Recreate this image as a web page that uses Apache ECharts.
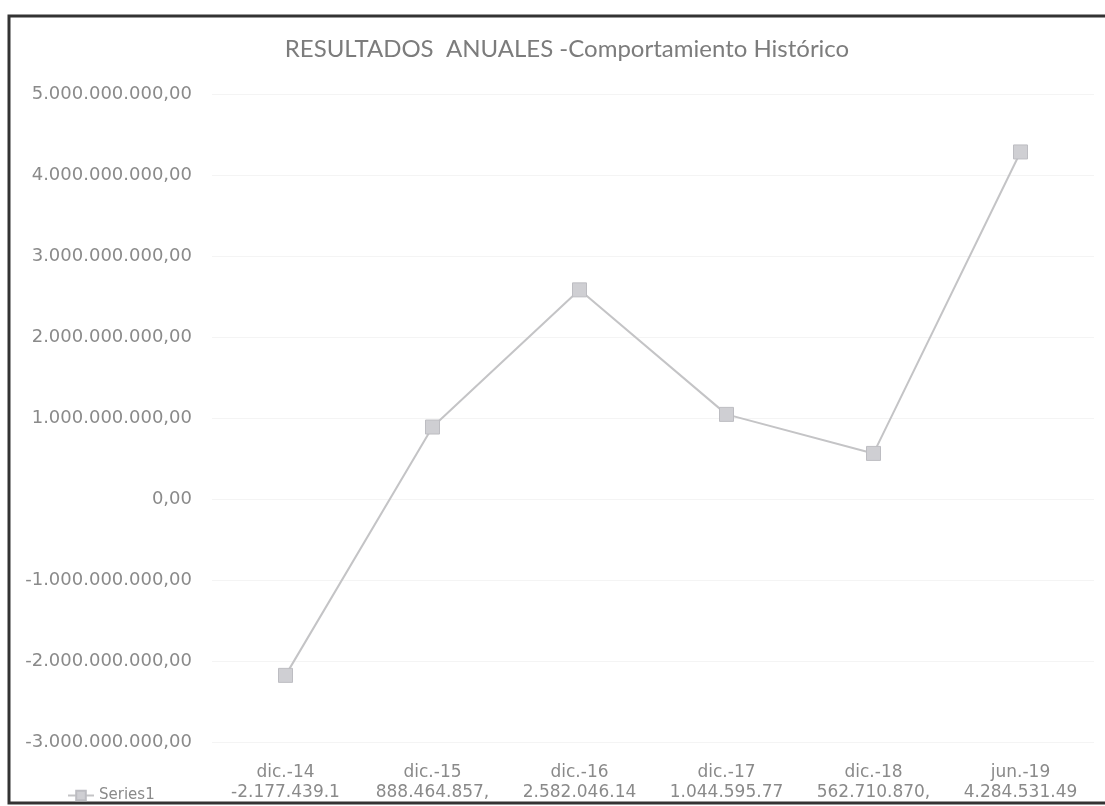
<!DOCTYPE html>
<html>
<head>
<meta charset="utf-8">
<script src="https://cdn.jsdelivr.net/npm/echarts@6/dist/echarts.min.js"></script>
<style>
  html, body { margin: 0; padding: 0; background: #fff; }
  #chart { width: 1105px; height: 806px; }
</style>
</head>
<body>
<div id="chart"></div>
<script>
// categorias y valores
const categories = ["dic.-14", "dic.-15", "dic.-16", "dic.-17", "dic.-18", "jun.-19"];
const values = [-2177439100, 888464857, 2582046140, 1044595770, 562710870, 4284531490];
const seriesName = "Series1";

// formato es-ES: 1.234.567,00
const fmt = (v) => {
  const neg = v < 0;
  const s = Math.abs(Math.round(v)).toString().replace(/\B(?=(\d{3})+(?!\d))/g, ".");
  return (neg ? "-" : "") + s + ",00";
};
// la tabla de datos de Excel corta el texto a 12 caracteres
const cell = (v) => fmt(v).slice(0, 12);

const chart = echarts.init(document.getElementById("chart"));
const textFont = "DejaVu Sans";

chart.setOption({
  backgroundColor: "#fff",
  animation: false,
  title: {
    text: "RESULTADOS  ANUALES -Comportamiento Histórico",
    left: 562,
    textAlign: "center",
    top: 32,
    textStyle: { fontFamily: "Lato", fontSize: 24, fontWeight: "normal", color: "#7c7c7c" },
  },
  legend: {
    left: 62,
    top: 783,
    itemWidth: 26,
    itemHeight: 12,
    itemGap: 4,
    textStyle: { fontFamily: textFont, fontSize: 15, color: "#8a8a8a" },
    data: [seriesName],
  },
  grid: { left: 212, right: 11, top: 94, bottom: 64, containLabel: false },
  xAxis: {
    type: "category",
    data: categories,
    axisLine: { show: false },
    axisTick: { show: false },
    axisLabel: {
      margin: 21,
      formatter: (c, i) => "{a|" + c + "}\n{b|" + cell(values[i]) + "}",
      rich: {
        a: { fontFamily: textFont, fontSize: 17, color: "#8a8a8a", lineHeight: 20 },
        b: { fontFamily: textFont, fontSize: 17, color: "#8a8a8a", lineHeight: 20 },
      },
    },
  },
  yAxis: {
    type: "value",
    min: -3000000000,
    max: 5000000000,
    interval: 1000000000,
    axisLine: { show: false },
    axisTick: { show: false },
    splitLine: { lineStyle: { color: "#f4f4f4", width: 1 } },
    axisLabel: {
      margin: 20,
      formatter: (v) => fmt(v),
      fontFamily: textFont,
      fontSize: 18,
      color: "#8a8a8a",
    },
  },
  series: [
    {
      name: seriesName,
      type: "line",
      data: values,
      symbol: "rect",
      symbolSize: 14,
      lineStyle: { color: "#c4c4c6", width: 2 },
      itemStyle: { color: "#cfcfd3", borderColor: "#bdbdc2", borderWidth: 1 },
    },
  ],
  graphic: [
    {
      type: "rect",
      shape: { x: 9, y: 16, width: 1110, height: 787 },
      style: { fill: "none", stroke: "#333", lineWidth: 3 },
      silent: true,
    },
  ],
});
</script>
</body>
</html>
